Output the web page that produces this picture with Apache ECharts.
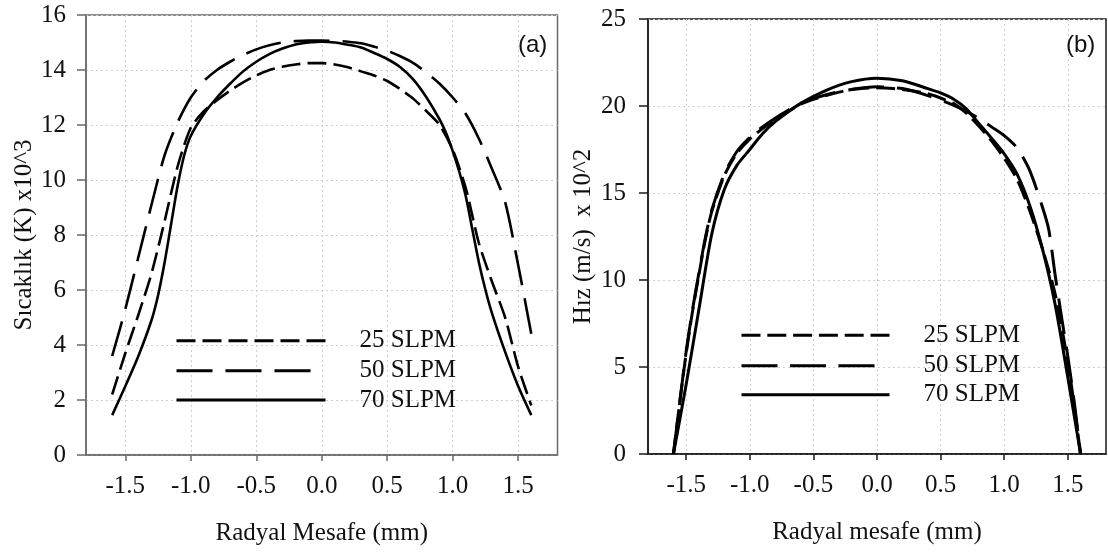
<!DOCTYPE html>
<html><head><meta charset="utf-8">
<script src="https://cdn.jsdelivr.net/npm/echarts@6/dist/echarts.min.js"></script>
<style>html,body{margin:0;padding:0;background:#fff}#c{width:1108px;height:554px}</style>
</head><body><div id="c"></div>
<script>
// ---------- data ----------
const seriesNames = ['25 SLPM', '50 SLPM', '70 SLPM'];
const xTickValues = [-1.5, -1.0, -0.5, 0.0, 0.5, 1.0, 1.5];

// Panel (a): temperature (x10^3 K)
const tempX   = [-1.6,-1.5,-1.4,-1.3,-1.2,-1.1,-1.0,-0.9,-0.8,-0.7,-0.6,-0.5,-0.4,-0.3,-0.2,-0.1,0.0,
                 0.1,0.2,0.3,0.4,0.5,0.6,0.7,0.8,0.9,1.0,1.1,1.2,1.3,1.4,1.5,1.6];
const temp25  = [2.2,3.7,5.1,6.6,8.5,10.5,11.9,12.5,12.9,13.25,13.55,13.8,14.0,14.12,14.2,14.25,14.25,
                 14.2,14.1,13.95,13.8,13.6,13.3,12.95,12.5,12.0,11.1,9.7,7.7,6.3,5.0,3.2,1.8];
const temp50  = [3.6,5.3,7.2,9.1,10.9,12.1,13.0,13.6,14.0,14.3,14.55,14.75,14.9,15.0,15.05,15.07,15.07,
                 15.06,15.03,14.97,14.85,14.7,14.5,14.25,13.9,13.5,13.0,12.4,11.5,10.4,9.2,6.9,4.4];
const temp70X = [-1.6,-1.5,-1.4,-1.3,-1.25,-1.2,-1.15,-1.1,-1.05,-1.0,-0.9,-0.8,-0.7,-0.6,-0.5,-0.4,-0.3,-0.2,-0.1,0.0,
                 0.1,0.2,0.3,0.4,0.5,0.6,0.7,0.8,0.9,0.95,1.0,1.05,1.1,1.15,1.2,1.25,1.3,1.4,1.5,1.6];
const temp70  = [1.45,2.5,3.6,4.9,5.8,7.0,8.4,9.8,10.9,11.6,12.4,13.0,13.5,13.95,14.3,14.58,14.78,14.93,15.0,15.03,
                 15.0,14.92,14.82,14.62,14.4,14.1,13.65,13.0,12.2,11.7,11.05,10.3,9.4,8.2,7.0,6.0,5.15,3.75,2.5,1.45];

// Panel (b): velocity (x10^2 m/s)
const velX25 = [-1.6,-1.55,-1.5,-1.45,-1.4,-1.35,-1.3,-1.2,-1.1,-1.0,-0.9,-0.8,-0.6,-0.4,-0.2,0.0,
                0.2,0.4,0.6,0.7,0.8,0.9,1.0,1.1,1.2,1.3,1.4,1.5,1.55,1.6];
const vel25  = [0,3.0,5.8,8.2,10.3,12.3,13.9,16.0,17.3,18.1,18.7,19.2,20.1,20.6,20.95,21.05,
                20.95,20.7,20.15,19.6,18.85,18.0,17.0,15.8,14.0,11.8,9.2,5.3,2.8,0];
const velX50 = [-1.6,-1.55,-1.5,-1.45,-1.4,-1.35,-1.3,-1.2,-1.1,-1.0,-0.9,-0.8,-0.6,-0.4,-0.2,0.0,
                0.2,0.4,0.6,0.8,0.9,1.0,1.1,1.2,1.3,1.35,1.4,1.45,1.5,1.55,1.6];
const vel50  = [0,3.0,5.9,8.3,10.4,12.4,14.0,16.1,17.4,18.2,18.8,19.3,20.15,20.65,20.95,21.1,
                21.0,20.6,20.05,19.3,18.8,18.3,17.6,16.3,14.2,12.9,10.3,7.9,5.6,3.0,0];
const velX70 = [-1.6,-1.5,-1.4,-1.3,-1.2,-1.1,-1.0,-0.9,-0.8,-0.6,-0.4,-0.2,0.0,
                0.2,0.4,0.5,0.6,0.7,0.8,0.9,1.0,1.1,1.2,1.3,1.4,1.5,1.6];
const vel70  = [0,4.0,8.3,12.6,15.2,16.6,17.5,18.4,19.1,20.15,20.9,21.4,21.6,
                21.45,21.0,20.75,20.4,19.85,19.0,18.15,17.25,16.1,14.3,11.8,8.6,4.4,0];

// ---------- chart ----------
const SERIF = 'Liberation Serif';
const zip = (xs, ys) => xs.map((x, i) => [x, ys[i]]);
const dash25 = [19, 7], dash50 = [36, 13];

function xAxisCfg(gridIndex, name, lineColor, nameGap) {
  return {
    type: 'value', gridIndex, min: -1.8, max: 1.8,
    name, nameLocation: 'middle', nameGap,
    nameTextStyle: {fontFamily: SERIF, fontSize: 25, color: '#111'},
    axisLine: {show: true, onZero: false, lineStyle: {color: lineColor, width: 1.5}},
    axisTick: {show: true, length: 6, customValues: xTickValues, lineStyle: {color: lineColor, width: 1.5}},
    axisLabel: {customValues: xTickValues, margin: 19, fontFamily: SERIF, fontSize: 25, color: '#111',
                formatter: v => v.toFixed(1)},
    splitLine: {show: true, lineStyle: {color: '#cfcfcf', type: [2, 3], width: 1}}
  };
}
function yAxisCfg(gridIndex, name, max, interval, lineColor, nameGap, margin) {
  return {
    type: 'value', gridIndex, min: 0, max, interval,
    name, nameLocation: 'middle', nameGap, nameRotate: 90,
    nameTextStyle: {fontFamily: SERIF, fontSize: 25, color: '#111'},
    axisLine: {show: true, onZero: false, lineStyle: {color: lineColor, width: 1.5}},
    axisTick: {show: true, length: 9, lineStyle: {color: lineColor, width: 1.5}},
    axisLabel: {margin, fontFamily: SERIF, fontSize: 25, color: '#111'},
    splitLine: {show: true, lineStyle: {color: '#cfcfcf', type: [2, 3], width: 1}}
  };
}
function lineSeries(name, xi, data, dash, width) {
  return {
    type: 'line', name, xAxisIndex: xi, yAxisIndex: xi, data,
    symbol: 'none', smooth: 0.25, silent: true,
    lineStyle: {color: '#000', width, type: dash}
  };
}
function legendCfg(names, dashes, left, top, itemWidth, pad, gap) {
  return {
    orient: 'vertical', left, top, padding: 0, itemGap: gap,
    itemWidth, itemHeight: 26, selectedMode: false,
    data: names.map((n, i) => ({name: n, lineStyle: {color: '#000', width: 3, type: dashes[i]},
                                itemStyle: {color: 'transparent', borderWidth: 0, opacity: 0}})),
    textStyle: {fontFamily: SERIF, fontSize: 25, color: '#111', lineHeight: 26, padding: [0, 0, 0, pad]}
  };
}

const chart = echarts.init(document.getElementById('c'), null, {renderer: 'canvas'});
chart.setOption({
  animation: false,
  backgroundColor: '#fff',
  title: [
    {text: '(a)', left: 518, top: 33, padding: 0,
     textStyle: {fontFamily: 'Liberation Sans', fontSize: 24, fontWeight: 'normal', color: '#111'}},
    {text: '(b)', left: 1066, top: 33, padding: 0,
     textStyle: {fontFamily: 'Liberation Sans', fontSize: 24, fontWeight: 'normal', color: '#111'}}
  ],
  grid: [
    {left: 86, top: 15, width: 471.5, height: 440, show: true, borderColor: '#6a6a6a', borderWidth: 1.5, backgroundColor: 'transparent'},
    {left: 648, top: 19, width: 458, height: 435, show: true, borderColor: '#1a1a1a', borderWidth: 1.5, backgroundColor: 'transparent'}
  ],
  xAxis: [
    xAxisCfg(0, 'Radyal Mesafe (mm)', '#6a6a6a', 66),
    xAxisCfg(1, 'Radyal mesafe (mm)', '#1a1a1a', 66)
  ],
  yAxis: [
    yAxisCfg(0, 'Sıcaklık (K) x10^3', 16, 2, '#6a6a6a', 47, 20),
    yAxisCfg(1, 'Hız (m/s)  x 10^2', 25, 5, '#1a1a1a', 52, 22)
  ],
  legend: [
    legendCfg(['25 SLPM', '70 SLPM'], [dash25, 'solid'], 175, 327.7, 149, 29, 33.3),
    legendCfg(['50 SLPM'], [dash50], 175, 357.7, 134, 44, 0),
    legendCfg(['25 SLPM', '70 SLPM'], [[19, 6.8], 'solid'], 740, 322.3, 148, 29, 33.4),
    legendCfg(['50 SLPM'], [[36, 12.5]], 740, 352.7, 133, 44, 0)
  ],
  series: [
    lineSeries(seriesNames[0], 0, zip(tempX, temp25), dash25, 2.6),
    lineSeries(seriesNames[1], 0, zip(tempX, temp50), dash50, 2.6),
    lineSeries(seriesNames[2], 0, zip(temp70X, temp70), 'solid', 2.6),
    lineSeries(seriesNames[0], 1, zip(velX25, vel25), dash25, 3),
    lineSeries(seriesNames[1], 1, zip(velX50, vel50), dash50, 3),
    lineSeries(seriesNames[2], 1, zip(velX70, vel70), 'solid', 3)
  ]
});
</script>
</body></html>
